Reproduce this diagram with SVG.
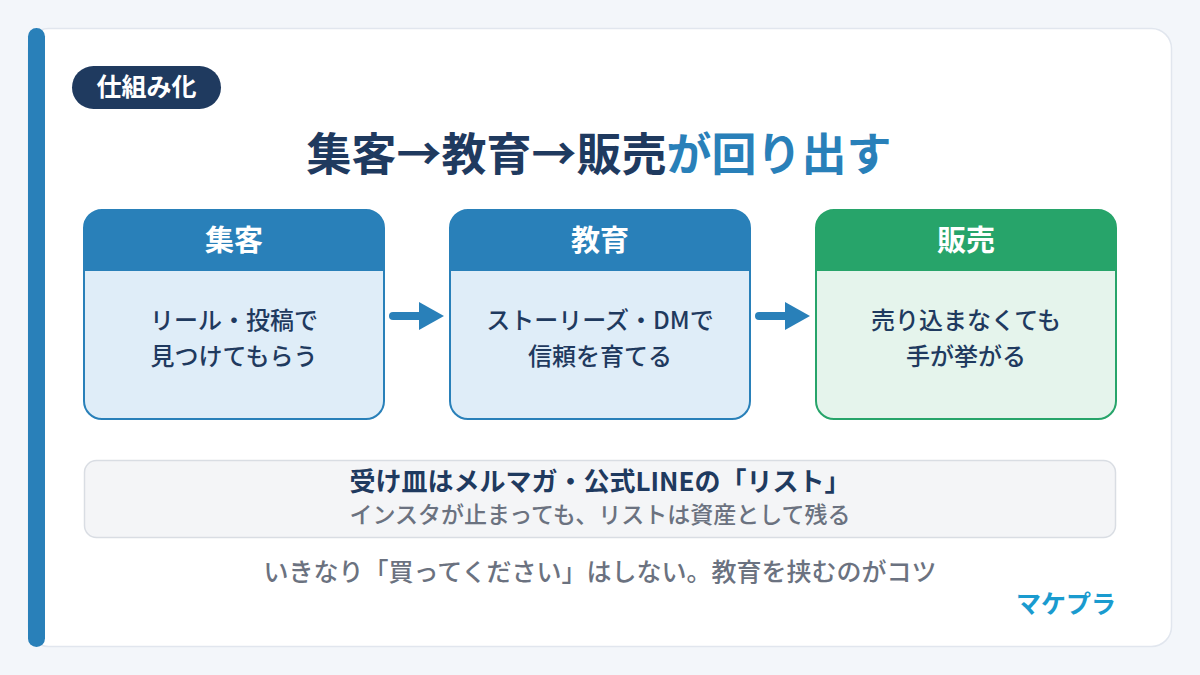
<svg xmlns="http://www.w3.org/2000/svg" width="1200" height="675" viewBox="0 0 1200 675">
<style>
text{font-family:"Noto Sans CJK JP","Noto Sans",sans-serif;}
.hd{font-size:29px;font-weight:700;fill:#ffffff;text-anchor:middle;}
.bd{font-size:24px;font-weight:500;fill:#1f3a5f;text-anchor:middle;}
.blue .frame{fill:#dfedf8;stroke:#2980b9;}
.blue .head{fill:#2980b9;}
.green .frame{fill:#e5f4ec;stroke:#27a46a;}
.green .head{fill:#27a46a;}
.frame{stroke-width:2;}
.conn line{stroke:#2980b9;stroke-width:8;stroke-linecap:round;}
.conn polygon{fill:#2980b9;}
</style>
<rect x="0" y="0" width="1200" height="675" fill="#f3f6fa"/>
<rect x="28.5" y="28.5" width="1143" height="618" rx="20" fill="#ffffff" stroke="#e1e6ee" stroke-width="1.5"/>
<rect x="28" y="28" width="17" height="619" rx="8.5" fill="#2980b9"/>
<g id="tag">
<rect x="72" y="66" width="149" height="43" rx="21.5" fill="#1f3a5f"/>
<text x="146.5" y="96" font-size="25" font-weight="700" fill="#ffffff" text-anchor="middle">仕組み化</text>
</g>
<g id="title">
<text x="599" y="171" font-size="45" font-weight="700" text-anchor="middle"><tspan fill="#1f3a5f">集客→教育→販売</tspan><tspan fill="#2980b9">が回り出す</tspan></text>
</g>
<g id="node-shukyaku" class="blue">
<rect class="frame" x="84" y="210" width="300" height="209" rx="18"/>
<path class="head" d="M84 228 a18 18 0 0 1 18 -18 h264 a18 18 0 0 1 18 18 v43 h-300 z"/>
<text class="hd" x="234" y="251">集客</text>
<text class="bd" x="234" y="329">リール・投稿で</text>
<text class="bd" x="234" y="365">見つけてもらう</text>
</g>
<g id="node-kyouiku" class="blue">
<rect class="frame" x="450" y="210" width="300" height="209" rx="18"/>
<path class="head" d="M450 228 a18 18 0 0 1 18 -18 h264 a18 18 0 0 1 18 18 v43 h-300 z"/>
<text class="hd" x="600" y="251">教育</text>
<text class="bd" x="600" y="329">ストーリーズ・DMで</text>
<text class="bd" x="600" y="365">信頼を育てる</text>
</g>
<g id="node-hanbai" class="green">
<rect class="frame" x="816" y="210" width="300" height="209" rx="18"/>
<path class="head" d="M816 228 a18 18 0 0 1 18 -18 h264 a18 18 0 0 1 18 18 v43 h-300 z"/>
<text class="hd" x="966" y="251">販売</text>
<text class="bd" x="966" y="329">売り込まなくても</text>
<text class="bd" x="966" y="365">手が挙がる</text>
</g>
<g id="connectors" class="conn">
<line x1="393" y1="316" x2="420" y2="316"/>
<polygon points="419,302 444,316 419,330"/>
<line x1="759" y1="316" x2="786" y2="316"/>
<polygon points="785,302 810,316 785,330"/>
</g>
<g id="note">
<rect x="84.5" y="460.5" width="1031" height="77" rx="12" fill="#f4f5f7" stroke="#d9dde3" stroke-width="1.5"/>
<text x="600" y="491" font-size="26" font-weight="700" fill="#1f3a5f" text-anchor="middle">受け皿はメルマガ・公式LINEの「リスト」</text>
<text x="600" y="523" font-size="23" font-weight="500" fill="#6b7280" text-anchor="middle">インスタが止まっても、リストは資産として残る</text>
</g>
<text x="600" y="581" font-size="25" font-weight="500" fill="#6b7280" text-anchor="middle">いきなり「買ってください」はしない。教育を挟むのがコツ</text>
<text x="1116" y="613" font-size="25" font-weight="700" fill="#1a9bcf" text-anchor="end">マケプラ</text>
</svg>
